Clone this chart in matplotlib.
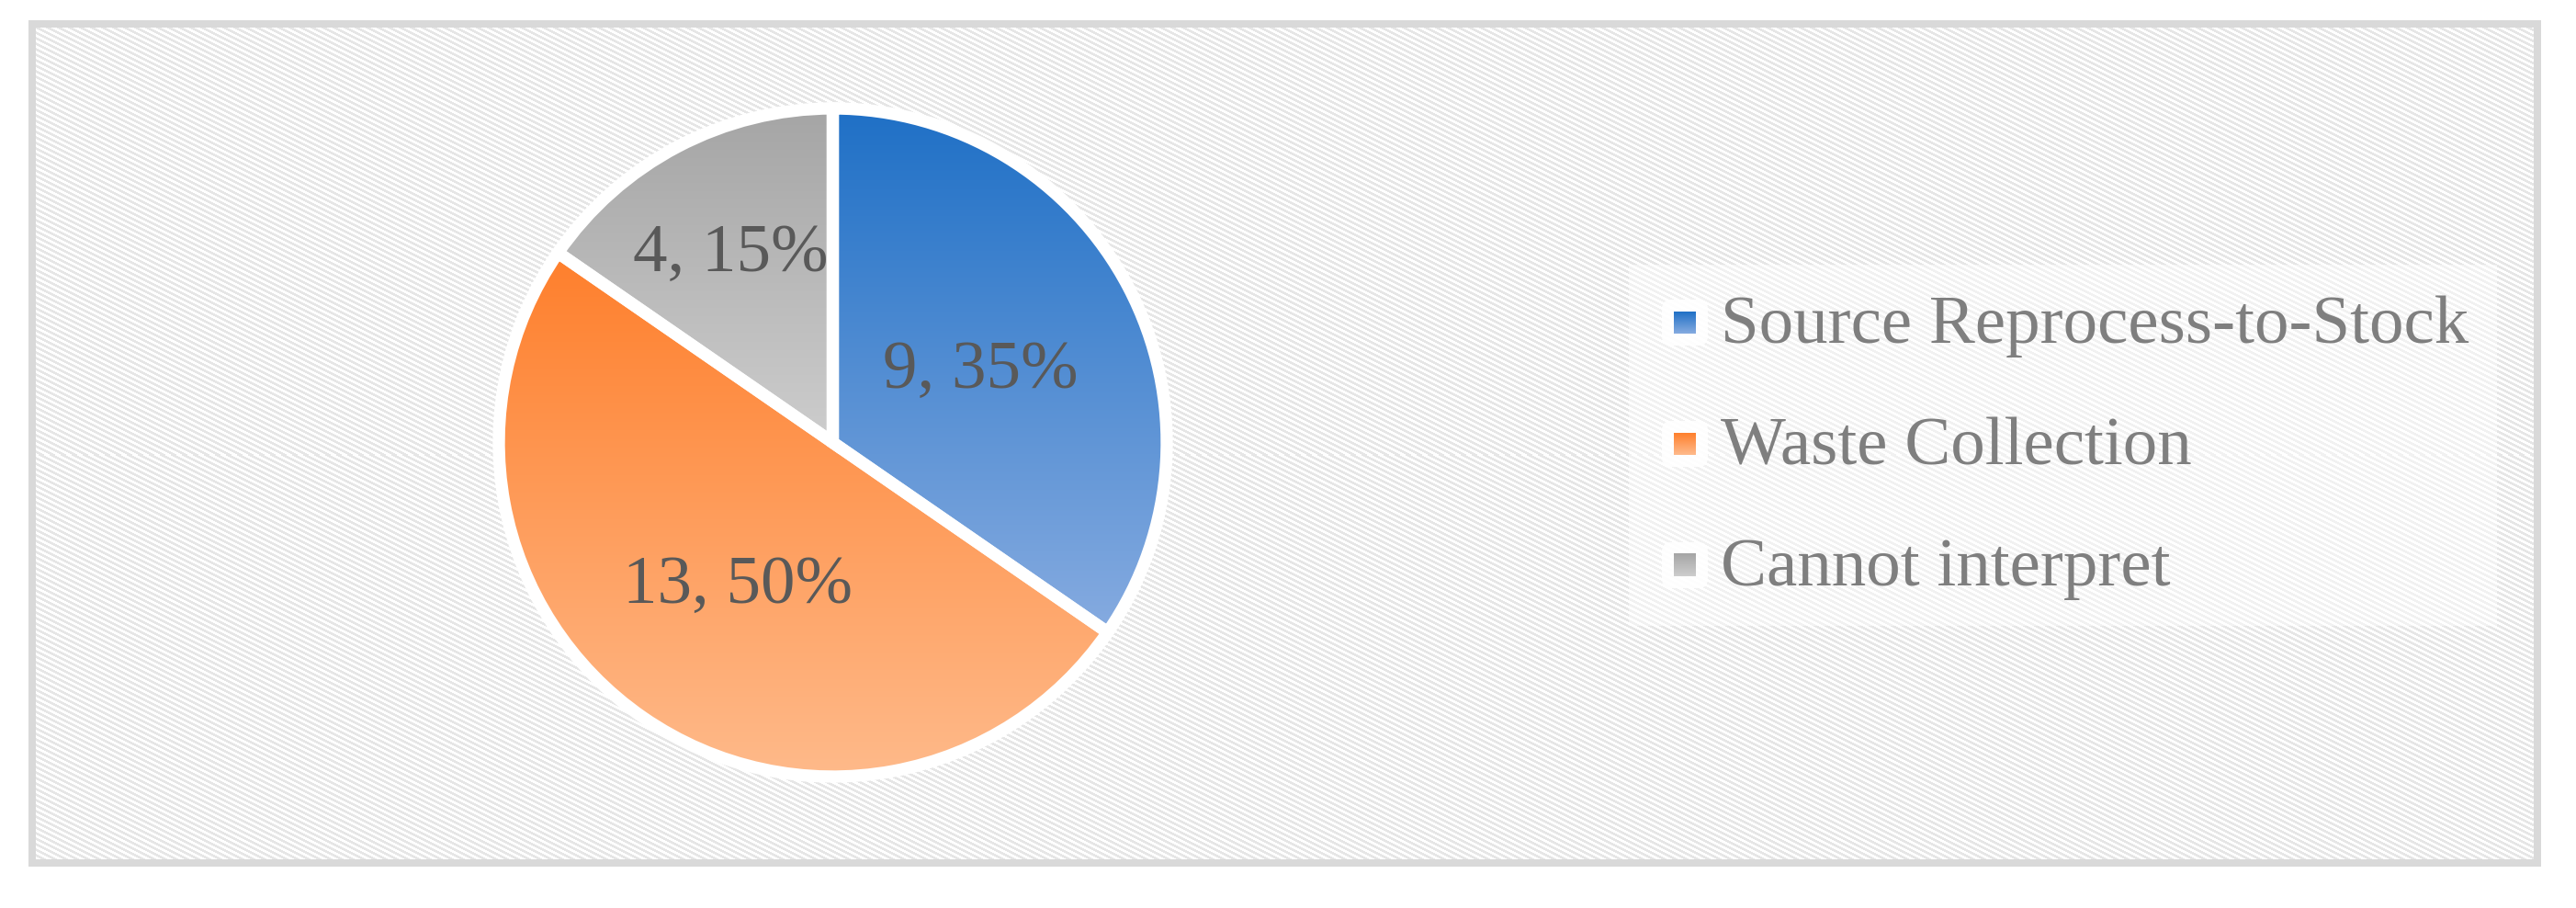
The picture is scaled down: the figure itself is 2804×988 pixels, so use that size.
import numpy as np
import matplotlib
matplotlib.use('Agg')
import matplotlib.pyplot as plt
from matplotlib.patches import FancyBboxPatch, Rectangle
from matplotlib.colors import to_rgb

# ---------------- data ----------------
categories = ['Source Reprocess-to-Stock', 'Waste Collection', 'Cannot interpret']
counts = [9, 13, 4]
percent_labels = ['35%', '50%', '15%']
top_colors = ['#1f70c6', '#fe7f2c', '#a5a5a5']
bottom_colors = ['#86abe0', '#ffbb8c', '#cdcdcd']

W, H = 2804, 988
fig = plt.figure(figsize=(W / 100, H / 100), dpi=100)
ax = fig.add_axes([0, 0, 1, 1])

# ---------------- background: frame + diagonal hatch ----------------
yy, xx = np.mgrid[0:H, 0:W]
img = np.ones((H, W, 3))
stripe = ((xx - 2 * yy) % 12) < 6
img[stripe] = 0xe6 / 255
L, T, R, B = 31, 23, 2766, 943
outside = (xx < L) | (xx >= R) | (yy < T) | (yy >= B)
img[outside] = 1.0
border = (~outside) & ((xx < L + 8) | (xx >= R - 8) | (yy < T + 8) | (yy >= B - 8))
img[border] = 0xd9 / 255
ax.imshow(img, extent=(0, W, 0, H), origin='upper', interpolation='nearest', zorder=0)


def gradient(c_top, c_bot, n=256):
    a = np.array(to_rgb(c_top))
    b = np.array(to_rgb(c_bot))
    t = np.linspace(0, 1, n)[:, None]
    return (a * (1 - t) + b * t)[:, None, :]


# ---------------- pie ----------------
cx, cy = 906.5, H - 481.5
radius = 363.5
wedges, _ = ax.pie(counts, startangle=90, counterclock=False, center=(cx, cy),
                   radius=radius,
                   wedgeprops=dict(edgecolor='white', linewidth=9.6, facecolor='none'))

label_dist = [0.51, 0.51, 0.67]
inner_r = radius - 7
serif = ['Liberation Serif', 'DejaVu Serif']
for i, w in enumerate(wedges):
    w.set_zorder(3)
    verts = w.get_path().vertices
    x0, x1 = verts[:, 0].min(), verts[:, 0].max()
    y0, y1 = verts[:, 1].min(), verts[:, 1].max()
    im = ax.imshow(gradient(top_colors[i], bottom_colors[i]), extent=(x0, x1, y0, y1),
                   origin='upper', aspect='auto', interpolation='bilinear', zorder=2)
    im.set_clip_path(w)
    mid = np.deg2rad((w.theta1 + w.theta2) / 2)
    lx = cx + label_dist[i] * inner_r * np.cos(mid)
    ly = cy + label_dist[i] * inner_r * np.sin(mid)
    ax.text(lx, ly - 25, f'{counts[i]}, {percent_labels[i]}', ha='center', va='baseline',
            fontsize=54, color='#595959', family=serif, zorder=5)

# ---------------- legend ----------------
ax.add_patch(Rectangle((1773, H - 681), 945, 393, facecolor='white', alpha=0.45,
                       edgecolor='none', zorder=1))
for i, cat in enumerate(categories):
    my = H - (351 + 132 * i)
    ax.add_patch(FancyBboxPatch((1834 - 19, my - 19), 38, 38,
                                boxstyle='round,pad=6,rounding_size=10',
                                facecolor='white', edgecolor='none', alpha=0.9, zorder=2))
    ax.imshow(gradient(top_colors[i], bottom_colors[i]),
              extent=(1822, 1846, my - 12, my + 12), origin='upper', aspect='auto',
              interpolation='bilinear', zorder=3)
    ax.text(1873, H - (373 + 132 * i), cat, ha='left', va='baseline', fontsize=54,
            color='#7f7f7f', family=serif, zorder=5)

ax.set_xlim(0, W)
ax.set_ylim(0, H)
ax.axis('off')
fig.savefig('out.png', dpi=100)
